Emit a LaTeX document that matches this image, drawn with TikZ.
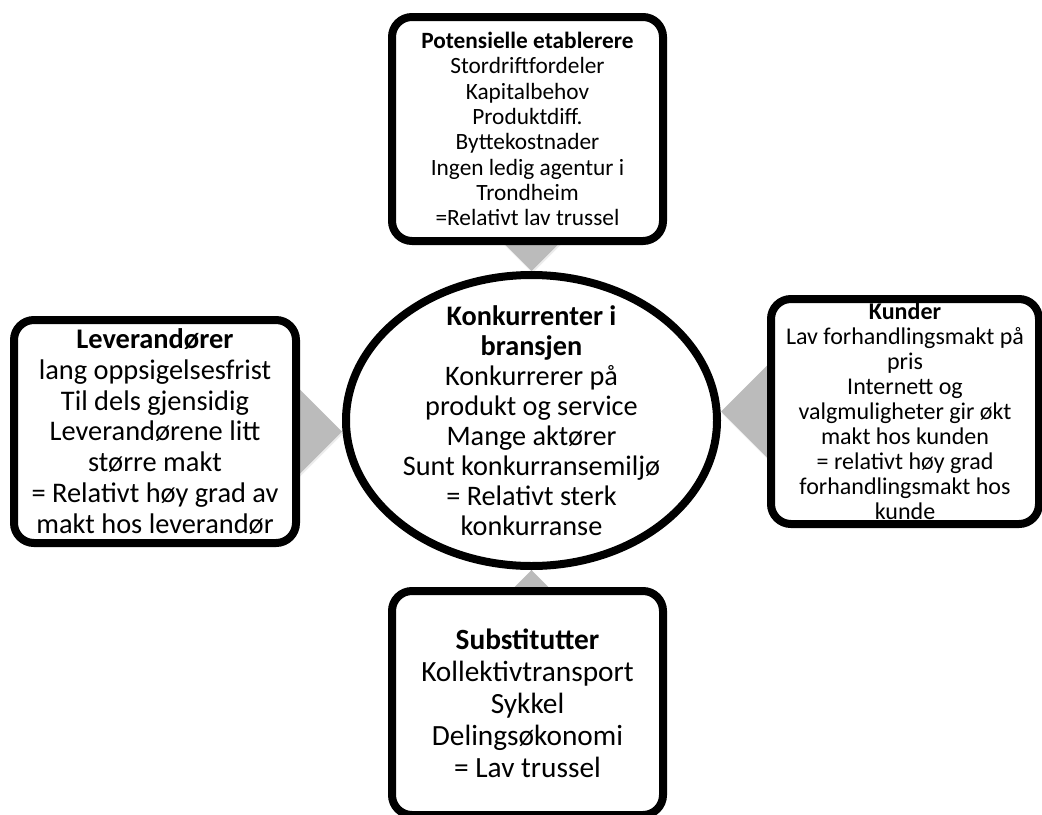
\documentclass[tikz,border=0pt]{standalone}
\usepackage{fontspec}
\setmainfont{Carlito}
\usepackage{tikz}
\usetikzlibrary{calc,shapes.geometric,shadows}
\definecolor{ForceGray}{HTML}{BBBBBB}
\definecolor{ForceDark}{HTML}{000000}
\pgfdeclarelayer{back}
\pgfsetlayers{back,main}
\tikzset{
  forcebox/.style={draw=ForceDark,line width=6pt,rounded corners=15pt,fill=white,align=center,
    inner xsep=0pt,inner ysep=-12pt,minimum width=203.25pt,minimum height=168pt,
    drop shadow={shadow xshift=1.2pt,shadow yshift=-2.4pt,opacity=0.25}},
  rivalry/.style={ellipse,draw=ForceDark,line width=6pt,fill=white,align=center,inner sep=-15pt,
    minimum width=278.25pt,minimum height=218.25pt,
    drop shadow={shadow xshift=1.2pt,shadow yshift=-2.4pt,opacity=0.25}},
  forcetip/.style={fill=ForceGray,drop shadow={shadow xshift=0.8pt,shadow yshift=-1.6pt,opacity=0.15}}
}
\begin{document}
\begin{tikzpicture}[x=0.75pt,y=-0.75pt]
\useasboundingbox (0,0) rectangle (1042,814);
\node[rivalry,font=\fontsize{21.2}{22.5}\selectfont] (kon) at (531.5,420.5) {\textbf{Konkurrenter i}\\\textbf{bransjen}\\Konkurrerer på\\produkt og service\\Mange aktører\\Sunt konkurransemiljø\\= Relativt sterk\\konkurranse};
\node[forcebox,font=\fontsize{17.5}{19}\selectfont] (etab) at (527.5,129) {\textbf{Potensielle etablerere}\\Stordriftfordeler\\Kapitalbehov\\Produktdiff.\\Byttekostnader\\Ingen ledig agentur i\\Trondheim\\=Relativt lav trussel};
\node[forcebox,font=\fontsize{21.3}{23.1}\selectfont,minimum width=211.5pt,minimum height=167.25pt] (lev) at (155,431.5) {\textbf{Leverandører}\\lang oppsigelsesfrist\\Til dels gjensidig\\Leverandørene litt\\større makt\\= Relativt høy grad av\\makt hos leverandør};
\node[forcebox,font=\fontsize{18}{18.75}\selectfont,minimum width=201pt,minimum height=168.75pt] (kun) at (905,411.5) {\textbf{Kunder}\\Lav forhandlingsmakt på\\pris\\Internett og\\valgmuligheter gir økt\\makt hos kunden\\= relativt høy grad\\forhandlingsmakt hos\\kunde};
\node[forcebox,font=\fontsize{22}{24}\selectfont] (sub) at (527.5,703) {\textbf{Substitutter}\\Kollektivtransport\\Sykkel\\Delingsøkonomi\\= Lav trussel};
\begin{pgfonlayer}{back}
\fill[forcetip] (kon.north) -- ++(-50,-50) -- ++(100,0) -- cycle;
\fill[forcetip] (kon.south) -- ++(-50,50) -- ++(100,0) -- cycle;
\fill[forcetip] (kon.west |- lev.east) -- ++(-50,-50) -- ++(0,100) -- cycle;
\fill[forcetip] (kon.east |- kun.west) -- ++(50,-50) -- ++(0,100) -- cycle;
\end{pgfonlayer}
\end{tikzpicture}
\end{document}
